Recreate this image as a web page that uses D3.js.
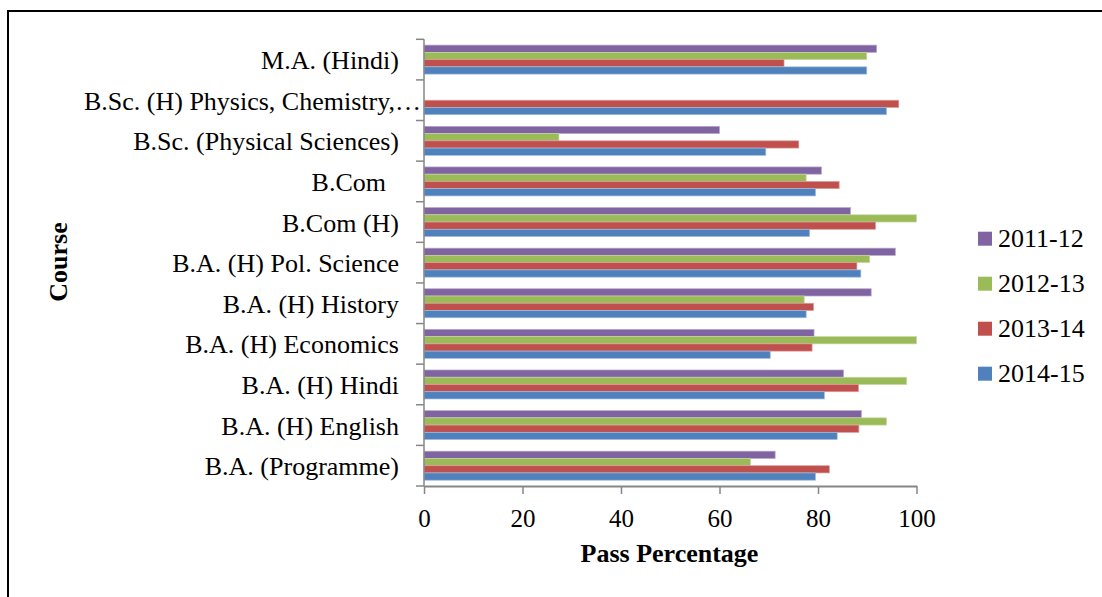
<!DOCTYPE html>
<html>
<head>
<meta charset="utf-8">
<script src="https://cdn.jsdelivr.net/npm/d3@7"></script>
<style>
  body { margin: 0; background: #fff; }
  svg text { font-family: "Liberation Serif", "Times New Roman", serif; }
</style>
</head>
<body>
<svg id="chart" width="1102" height="597"></svg>
<script>
// courses, listed bottom to top as in the source sheet
var courses = [
  "B.A. (Programme)",
  "B.A. (H) English",
  "B.A. (H) Hindi",
  "B.A. (H) Economics",
  "B.A. (H) History",
  "B.A. (H) Pol. Science",
  "B.Com (H)",
  "B.Com\u00a0\u00a0",
  "B.Sc. (Physical Sciences)",
  "B.Sc. (H) Physics, Chemistry,…",
  "M.A. (Hindi)"
];

var years = ["2011-12", "2012-13", "2013-14", "2014-15"];

var pass2011 = [71.3, 88.8, 85.2, 79.2, 90.8, 95.7, 86.6, 80.7, 60.0, null, 91.9];
var pass2012 = [66.3, 93.9, 98.0, 100, 77.2, 90.5, 100, 77.6, 27.4, null, 89.9];
var pass2013 = [82.3, 88.3, 88.2, 78.8, 79.1, 87.9, 91.7, 84.3, 76.1, 96.4, 73.1];
var pass2014 = [79.5, 83.9, 81.3, 70.3, 77.6, 88.7, 78.3, 79.5, 69.4, 93.9, 89.9];

var xTicks = [0, 20, 40, 60, 80, 100];

var colors = ["#8064a2", "#9bbb59", "#c0504d", "#4f81bd"];
var edges = ["#b6a7ca", "#c6d8a0", "#dc9c9a", "#a3bcdc"];

var seriesValues = [pass2011, pass2012, pass2013, pass2014];

var rows = courses.map(function(c, i) {
  return { course: c, values: years.map(function(y, j) { return { year: j, v: seriesValues[j][i] }; }) };
});

var svg = d3.select("#chart");

// frame round the whole figure (runs off the right and bottom edge)
svg.append("rect")
  .attr("x", 8).attr("y", 11)
  .attr("width", 1200).attr("height", 700)
  .attr("fill", "none")
  .attr("stroke", "#000")
  .attr("stroke-width", 2);

var plotLeft = 424, plotRight = 916.5, plotTop = 39.3, plotBottom = 486;

var x = d3.scaleLinear().domain([0, 100]).range([plotLeft, plotRight]);

var y0 = d3.scaleBand()
  .domain(courses.slice().reverse())
  .range([plotTop, plotBottom]);

var y1 = d3.scaleBand()
  .domain(d3.range(years.length))
  .range([0, y0.bandwidth()])
  .paddingOuter(0.8);

// bars
var group = svg.selectAll(".course")
  .data(rows)
  .enter().append("g")
  .attr("class", "course")
  .attr("transform", function(d) { return "translate(0," + y0(d.course) + ")"; });

group.selectAll("rect")
  .data(function(d) { return d.values.filter(function(v) { return v.v != null; }); })
  .enter().append("rect")
  .attr("x", x(0))
  .attr("y", function(d) { return y1(d.year); })
  .attr("width", function(d) { return x(d.v) - x(0); })
  .attr("height", y1.bandwidth())
  .attr("fill", function(d) { return colors[d.year]; })
  .attr("stroke", function(d) { return edges[d.year]; })
  .attr("stroke-width", 0.7);

// y axis: line and ticks at band boundaries
var axisColor = "#868686";
svg.append("line")
  .attr("x1", plotLeft).attr("x2", plotLeft)
  .attr("y1", plotTop).attr("y2", plotBottom)
  .attr("stroke", axisColor).attr("stroke-width", 1.5);

var bounds = courses.map(function(c) { return y0(c); }).concat([plotBottom]);
svg.selectAll(".ytick")
  .data(bounds)
  .enter().append("line")
  .attr("class", "ytick")
  .attr("x1", plotLeft - 8).attr("x2", plotLeft)
  .attr("y1", function(d) { return d; })
  .attr("y2", function(d) { return d; })
  .attr("stroke", axisColor).attr("stroke-width", 1.5);

svg.selectAll(".ylabel")
  .data(courses)
  .enter().append("text")
  .attr("class", "ylabel")
  .attr("x", function(d) { return d.slice(-1) === "…" ? plotLeft - 3 : plotLeft - 25; })
  .attr("y", function(d) { return y0(d) + y0.bandwidth() / 2 + 9.5; })
  .attr("text-anchor", "end")
  .attr("font-size", 26)
  .attr("fill", "#000")
  .style("white-space", "pre")
  .text(function(d) { return d; });

// x axis
var xAxis = d3.axisBottom(x)
  .tickValues(xTicks)
  .tickSize(8)
  .tickPadding(15)
  .tickSizeOuter(0);

var gx = svg.append("g")
  .attr("transform", "translate(0," + plotBottom + ")")
  .call(xAxis);

gx.select(".domain").attr("stroke", axisColor).attr("stroke-width", 2);
gx.selectAll(".tick line").attr("stroke", axisColor).attr("stroke-width", 1.5);
gx.selectAll(".tick text")
  .attr("font-family", "Liberation Serif, Times New Roman, serif")
  .attr("font-size", 25)
  .attr("fill", "#000");

// axis titles
svg.append("text")
  .attr("x", 669.5).attr("y", 562)
  .attr("text-anchor", "middle")
  .attr("font-size", 26)
  .attr("font-weight", "bold")
  .text("Pass Percentage");

svg.append("text")
  .attr("transform", "translate(67,262) rotate(-90)")
  .attr("text-anchor", "middle")
  .attr("font-size", 26)
  .attr("font-weight", "bold")
  .text("Course");

// legend
var legend = svg.selectAll(".legend")
  .data(years)
  .enter().append("g")
  .attr("class", "legend")
  .attr("transform", function(d, i) { return "translate(978," + (231.7 + i * 45) + ")"; });

legend.append("rect")
  .attr("width", 14).attr("height", 14)
  .attr("fill", function(d, i) { return colors[i]; });

legend.append("text")
  .attr("x", 20).attr("y", 15.6)
  .attr("font-size", 26)
  .text(function(d) { return d; });
</script>
</body>
</html>
